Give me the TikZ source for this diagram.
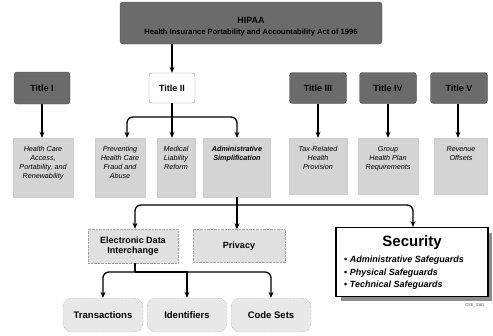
\documentclass[tikz,border=0pt]{standalone}
\usepackage{fontspec}
\setmainfont{Liberation Sans}
\usetikzlibrary{arrows.meta}
\begin{document}
\begin{tikzpicture}[x=1pt,y=-1pt,
  darkbox/.style={draw=black!70,fill=black!58,rounded corners=3pt,font=\bfseries\fontsize{9}{10}\selectfont,inner sep=0pt},
  whitebox/.style={draw=black!45,fill=white,rounded corners=3pt,font=\bfseries\fontsize{9}{10}\selectfont,inner sep=0pt},
  lightbox/.style={draw=black!20,fill=black!17,inner sep=0pt},
  rowtext/.style={font=\itshape\fontsize{7.2}{9}\selectfont,align=center,anchor=north,inner sep=0pt},
  midbox/.style={draw=black!35,densely dotted,fill=black!12,inner sep=0pt,font=\bfseries\fontsize{9}{10.5}\selectfont,align=center},
  pillbox/.style={draw=black!45,densely dotted,fill=black!9,rounded corners=9pt,inner sep=0pt,font=\bfseries\fontsize{9.5}{11}\selectfont,minimum width=80pt,minimum height=34pt},
  arr/.style={draw=black,line width=1.3pt,-{Stealth[length=6pt,width=5pt]}},
  conn/.style={draw=black,line width=1.3pt,rounded corners=5pt}
]
\useasboundingbox (0,0) rectangle (493,335);
% top
\node[draw=black!70,fill=black!58,rounded corners=3pt,minimum width=262pt,minimum height=42pt,inner sep=0pt] (hipaa) at (251,23) {};
\node[align=center,inner sep=0pt] (hipaat) at (251,27)
  {{\bfseries\fontsize{9}{10}\selectfont HIPAA}\\[-1pt]{\bfseries\fontsize{7.6}{9}\selectfont Health Insurance Portability and Accountability Act of 1996}};
% titles
\node[darkbox,minimum width=56pt,minimum height=32pt] (t1) at (42,88) {Title I};
\node[whitebox,minimum width=46pt,minimum height=30pt] (t2) at (172,88) {Title II};
\node[darkbox,minimum width=57pt,minimum height=31pt] (t3) at (318,88) {Title III};
\node[darkbox,minimum width=57pt,minimum height=31pt] (t4) at (388,88) {Title IV};
\node[darkbox,minimum width=57pt,minimum height=31pt] (t5) at (459,88) {Title V};
% row 2
\node[lightbox,minimum width=60pt,minimum height=59pt] (hc) at (43,167.5) {};
\node[rowtext] (hct) at (43,146) {Health Care\\Access,\\Portability, and\\Renewability};
\node[lightbox,minimum width=50pt,minimum height=59pt] (pr) at (120,167.5) {};
\node[rowtext] (prt) at (120,146) {Preventing\\Health Care\\Fraud and\\Abuse};
\node[lightbox,minimum width=38pt,minimum height=59pt] (ml) at (176,167.5) {};
\node[rowtext] (mlt) at (176,146) {Medical\\Liability\\Reform};
\node[lightbox,minimum width=67pt,minimum height=59pt] (ad) at (237,167.5) {};
\node[rowtext,font=\bfseries\itshape\fontsize{7.2}{9}\selectfont] (adt) at (237,146) {Administrative\\Simplification};
\node[lightbox,minimum width=58pt,minimum height=56pt] (tx) at (318,166) {};
\node[rowtext] (txt) at (318,146) {Tax-Related\\Health\\Provision};
\node[lightbox,minimum width=60pt,minimum height=56pt] (gh) at (388,166) {};
\node[rowtext] (ght) at (388,146) {Group\\Health Plan\\Requirements};
\node[lightbox,minimum width=53pt,minimum height=56pt] (rv) at (461,166) {};
\node[rowtext] (rvt) at (461,146) {Revenue\\Offsets};
% row 3
\node[midbox,minimum width=90pt,minimum height=34pt] (edi) at (133,246) {Electronic Data\\[-1pt]Interchange};
\node[midbox,minimum width=92pt,minimum height=33pt] (pv) at (239,246) {Privacy};
\fill[black!45] (341,233) rectangle (492,301);
\node[draw=black,line width=1.1pt,fill=white,minimum width=152pt,minimum height=69pt,inner sep=0pt] (sec) at (412,262) {};
\node[font=\bfseries\fontsize{15}{17}\selectfont,anchor=center] (sect) at (412,243) {Security};
\node[font=\bfseries\itshape\fontsize{9}{12.5}\selectfont,align=left,anchor=north west,inner sep=0pt] (secl) at (344,256)
  {{\upshape\textbullet} Administrative Safeguards\\{\upshape\textbullet} Physical Safeguards\\{\upshape\textbullet} Technical Safeguards};
\node[font=\fontsize{4}{4}\selectfont,text=black!70,inner sep=0pt] (tag) at (475,305) {CSE\_0162};
% row 4
\node[pillbox] (tr) at (103,315) {Transactions};
\node[pillbox] (id) at (187,315) {Identifiers};
\node[pillbox] (cs) at (271,315) {Code Sets};
% connectors
\draw[arr] (hipaa.south -| t2.north) -- (t2.north);
\draw[arr] (t1.south) -- (hc.north -| t1.south);
\draw[arr] (t3.south) -- (tx.north);
\draw[arr] (t4.south) -- (gh.north);
\draw[arr] (t5.south -| 458,0) -- (rv.north -| 458,0);
\coordinate (b2) at (172,117);
\draw[conn] (t2.south) -- (b2);
\draw[arr,rounded corners=6pt] (b2) -| (pr.north -| 127,0);
\draw[arr] (b2) -- (ml.north -| b2);
\draw[arr,rounded corners=6pt] (b2) -| (ad.north);
\coordinate (b3) at (237,205);
\draw[conn] (ad.south) -- (b3);
\draw[arr,rounded corners=6pt] (b3) -| (edi.north -| 135,0);
\draw[arr] (b3) -- (pv.north -| b3);
\draw[arr,rounded corners=6pt] (b3) -| (sec.north -| 413,0);
\coordinate (b4) at (135,272);
\draw[conn] (edi.south -| b4) -- (b4);
\draw[arr,rounded corners=6pt] (b4) -| (tr.north);
\draw[arr] (b4) -| (id.north);
\draw[arr,rounded corners=6pt] (b4) -| (cs.north);
\end{tikzpicture}
\end{document}
